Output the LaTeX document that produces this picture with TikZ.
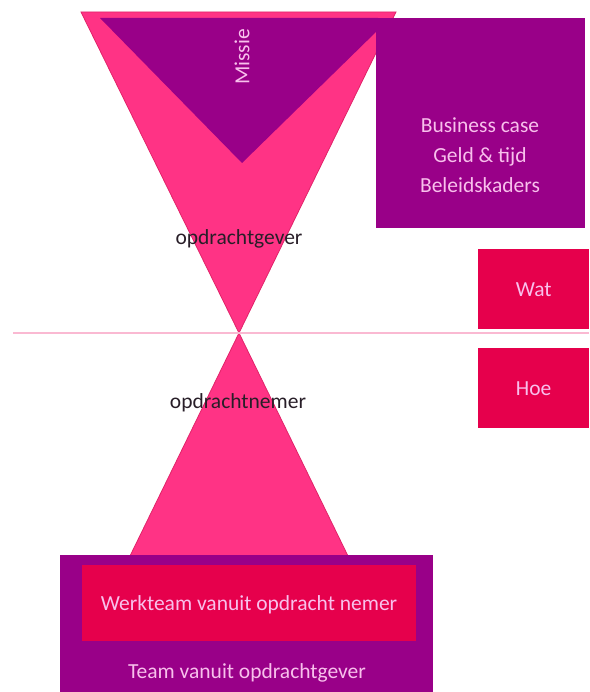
\documentclass[tikz,border=0pt]{standalone}
\usepackage{fontspec}
\setmainfont{Carlito}
\definecolor{hotpink}{RGB}{255,51,133}
\definecolor{pinkedge}{RGB}{225,35,105}
\definecolor{plum}{RGB}{153,0,136}
\definecolor{crimson}{RGB}{230,0,76}
\definecolor{paletext}{RGB}{248,192,236}
\definecolor{axis}{RGB}{250,185,210}
\definecolor{ink}{RGB}{40,30,40}
\tikzset{
  cone/.style={fill=hotpink, draw=pinkedge, line width=0.8pt, line join=miter},
  plumbox/.style={fill=plum, draw=none, inner sep=0pt, text=paletext},
  redbox/.style={fill=crimson, draw=none, inner sep=0pt, text=paletext},
  label/.style={text=ink, inner sep=0pt},
  bigtext/.style={font=\fontsize{21.5}{30}\selectfont}
}
\begin{document}
\begin{tikzpicture}[x=1pt,y=-1pt,bigtext]
\useasboundingbox (0,0) rectangle (589,692);
% apex where both cones meet
\coordinate (apex) at (239,333);
% upper cone
\draw[cone] (81,12) -- (396,12) -- (apex) -- cycle;
% mission triangle inside the upper cone
\fill[plum] (100,18) -- (378,18) -- (378,30) -- (242,163) -- cycle;
\node[text=paletext, rotate=90, inner sep=0pt] (missie) at (242,57) {Missie};
% frame box on the right
\node[plumbox, minimum width=209pt, minimum height=210pt, anchor=north west,
      align=center] (kaders) at (376,18) {};
\node[text=paletext, align=center, inner sep=0pt] (kadertekst) at (480,155)
  {Business case\\Geld \& tijd\\Beleidskaders};
% lower cone
\draw[cone] (apex) -- (348,556) -- (130,556) -- cycle;
% dividing line
\coordinate (lineL) at (13,333);
\coordinate (lineR) at (589,333);
\draw[axis, line width=2pt] (lineL) -- (lineR);
% labels on the cones
\node[label] (gever) at (239,239) {opdrachtgever};
\node[label] (nemer) at (238,403) {opdrachtnemer};
% what / how boxes
\node[redbox, minimum width=111pt, minimum height=80pt, anchor=north west]
  (wat) at (478,249) {Wat};
\node[redbox, minimum width=111pt, minimum height=80pt, anchor=north west]
  (hoe) at (478,348) {Hoe};
% teams at the bottom
\node[plumbox, minimum width=373pt, minimum height=140pt, anchor=north west]
  (team) at (60,555) {};
\node[redbox, minimum width=334pt, minimum height=76pt, anchor=north west]
  (werkteam) at (82,565) {};
\node[text=paletext, inner sep=0pt] (werktekst) at (249,605)
  {Werkteam vanuit opdracht nemer};
\node[text=paletext, inner sep=0pt] (teamtekst) at (247,673)
  {Team vanuit opdrachtgever};
\end{tikzpicture}
\end{document}
